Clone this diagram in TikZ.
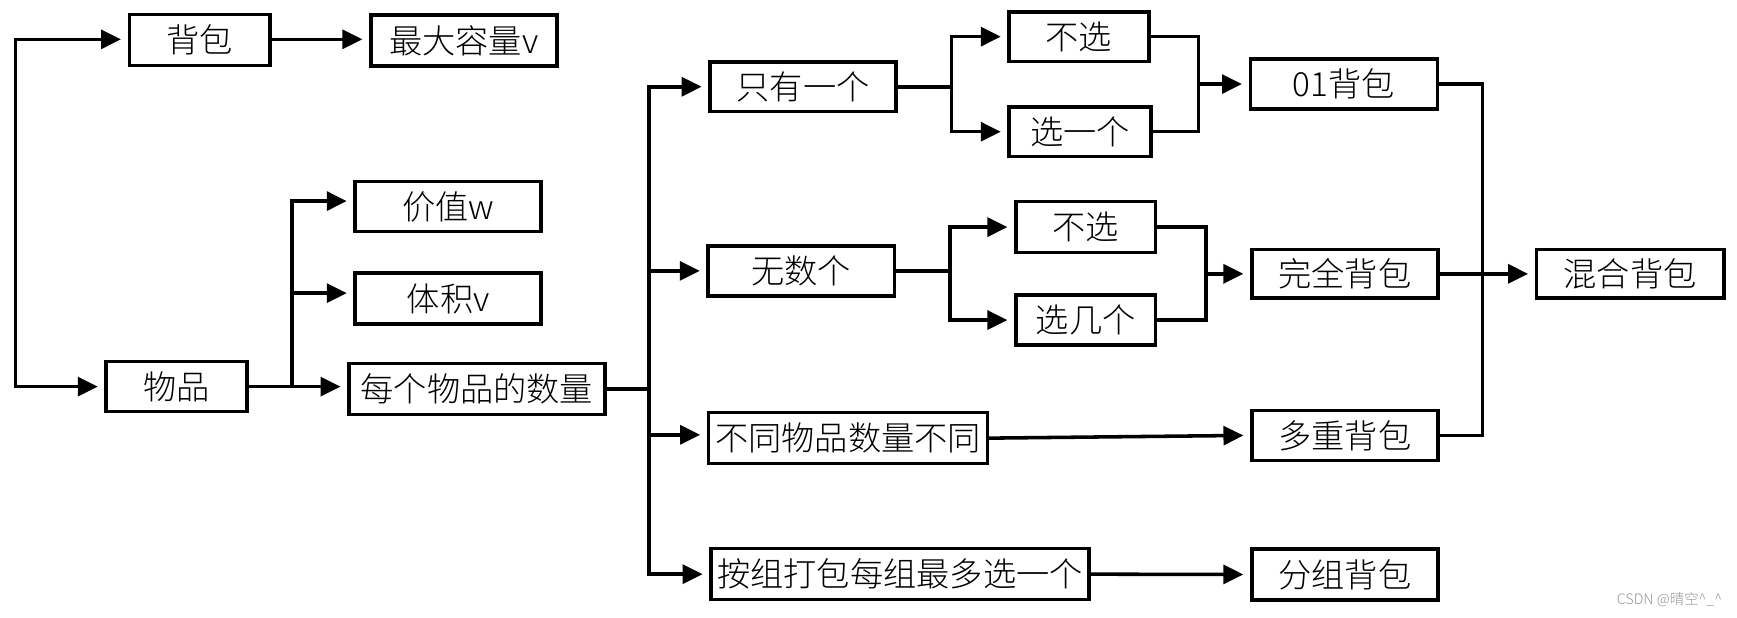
\documentclass[tikz,border=0pt]{standalone}
\usepackage{fontspec}
\setmainfont{Noto Sans CJK SC}[UprightFont={* Light}]
\usetikzlibrary{arrows.meta}
\begin{document}
\begin{tikzpicture}[x=1pt,y=-1pt,
  box/.style={draw, line width=3.2pt, inner sep=0pt, font=\fontsize{30}{32}\selectfont},
  conn/.style={line width=3.2pt, line cap=rect},
  arr/.style={line width=3.2pt, line cap=rect, -{Triangle[length=18pt,width=17pt]}, shorten >=6pt},
]
\useasboundingbox (0,0) rectangle (1568,557);
% nodes
\node[box, minimum width=127pt, minimum height=46pt] (bb) at (180.3,36.1) {背包};
\node[box, minimum width=168pt, minimum height=46pt] (cap) at (418.7,36.4) {最大容量v};
\node[box, minimum width=127pt, minimum height=45pt] (item) at (159.4,349) {物品};
\node[box, minimum width=168pt, minimum height=45pt] (val) at (404.6,186.5) {价值w};
\node[box, minimum width=168pt, minimum height=46pt] (vol) at (404.6,269.6) {体积v};
\node[box, minimum width=231pt, minimum height=46pt] (cnt) at (430.5,351.3) {每个物品的数量};
\node[box, minimum width=168pt, minimum height=45pt] (one) at (725,78.3) {只有一个};
\node[box, minimum width=168pt, minimum height=45pt] (inf) at (723.3,244.5) {无数个};
\node[box, minimum width=252pt, minimum height=46pt] (diff) at (765.6,395.5) {不同物品数量不同};
\node[box, minimum width=341pt, minimum height=46pt] (grp) at (812.4,518.3) {按组打包每组最多选一个};
\node[box, minimum width=126pt, minimum height=45pt] (n1) at (974,33.1) {不选};
\node[box, minimum width=128pt, minimum height=45pt] (s1) at (975,118.9) {选一个};
\node[box, minimum width=126pt, minimum height=46pt] (n2) at (980,205) {不选};
\node[box, minimum width=126pt, minimum height=45pt] (s2) at (980,288.9) {选几个};
\node[box, minimum width=169pt, minimum height=45pt] (zo) at (1213.2,75.9) {01背包};
\node[box, minimum width=168pt, minimum height=44pt] (full) at (1214,247.2) {完全背包};
\node[box, minimum width=168pt, minimum height=45pt] (multi) at (1214,393) {多重背包};
\node[box, minimum width=168pt, minimum height=46pt] (group) at (1214,518.6) {分组背包};
\node[box, minimum width=169pt, minimum height=44pt] (mix) at (1471.5,247.2) {混合背包};
\node[font=\fontsize{13}{14}\selectfont, text=black!42, inner sep=0pt] (wm) at (1507,541.6) {CSDN @晴空\textasciicircum\_\textasciicircum};
% junction coordinates
\coordinate (L1) at (13.8,35.5);
\coordinate (L2) at (13.8,349);
\coordinate (V1) at (263.6,0);
\coordinate (V2) at (586,0);
\coordinate (V3) at (859,0);
\coordinate (V4) at (1082,0);
\coordinate (V5) at (857.7,0);
\coordinate (V6) at (1088.6,0);
\coordinate (V7) at (1338.3,0);
% left
\draw[arr] (L1) -- (bb.west |- L1);
\draw[arr] (L1) -- (L2) -- (item.west);
\draw[arr] (bb.east |- L1) -- (cap.west |- L1);
% item branches
\coordinate (a1) at ([yshift=5pt]val.west);
\coordinate (a2) at ([yshift=5pt]vol.west);
\draw[arr] (V1 |- item.east) -- (V1 |- a1) -- (a1);
\draw[arr] (V1 |- a2) -- (a2);
\draw[arr] (item.east) -- (cnt.west |- item.east);
% count branches
\coordinate (dA) at ([yshift=3pt]diff.west);
\draw[conn] (cnt.east) -- (V2 |- cnt.east);
\draw[arr] (V2 |- grp.west) -- (V2 |- one.west) -- (one.west);
\draw[arr] (V2 |- inf.west) -- (inf.west);
\draw[arr] (V2 |- dA) -- (dA);
\draw[arr] (V2 |- grp.west) -- (grp.west);
% only one
\draw[conn] (one.east) -- (V3 |- one.east);
\draw[arr] (V3 |- s1.west) -- (V3 |- n1.west) -- (n1.west);
\draw[arr] (V3 |- s1.west) -- (s1.west);
\draw[conn] (n1.east) -- (V4 |- n1.east) -- (V4 |- s1.east) -- (s1.east);
\draw[arr] (V4 |- zo.west) -- (zo.west);
% infinite
\draw[conn] (inf.east) -- (V5 |- inf.east);
\draw[arr] (V5 |- s2.west) -- (V5 |- n2.west) -- (n2.west);
\draw[arr] (V5 |- s2.west) -- (s2.west);
\draw[conn] (n2.east) -- (V6 |- n2.east) -- (V6 |- s2.east) -- (s2.east);
\draw[arr] (V6 |- full.west) -- (full.west);
% others
\draw[arr] (diff.east) -- (multi.west);
\draw[arr] (grp.east) -- (group.west);
% mixed
\draw[conn] (zo.east) -- (V7 |- zo.east) -- (V7 |- multi.east) -- (multi.east);
\draw[arr] (full.east) -- (mix.west);
\end{tikzpicture}
\end{document}
